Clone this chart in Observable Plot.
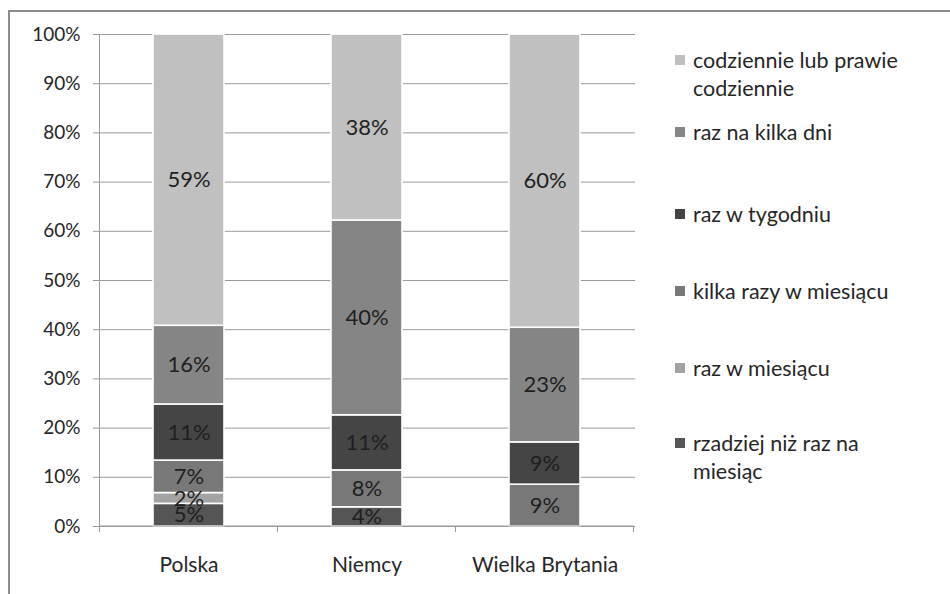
<!DOCTYPE html>
<html>
<head>
<meta charset="utf-8">
<script src="https://cdn.jsdelivr.net/npm/d3@7"></script>
<script src="https://cdn.jsdelivr.net/npm/@observablehq/plot@0.6"></script>
<style>
  html, body { margin: 0; padding: 0; background: #fff; }
  #wrap { position: relative; width: 950px; height: 594px; overflow: hidden; font-family: Lato, "Open Sans", sans-serif; }
  #frame { position: absolute; left: 8px; top: 10px; right: -10px; bottom: -10px; border-top: 2px solid #8c8c8c; border-left: 2px solid #8c8c8c; }
  #chart { position: absolute; left: 0; top: 0; }
  .leg { position: absolute; left: 675px; font-size: 21.5px; line-height: 28px; color: #262626; }
  .leg .sw { position: absolute; left: 0; top: 9px; width: 10px; height: 10px; }
  .leg .tx { position: absolute; left: 18px; top: 0; white-space: nowrap; }
</style>
</head>
<body>
<div id="wrap">
  <div id="frame"></div>
  <div id="chart"></div>
</div>
<script>
// Categories (x axis)
const countries = ["Polska", "Niemcy", "Wielka Brytania"];
// Series, bottom to top of the stack
const series = [
  "rzadziej niż raz na miesiąc",
  "raz w miesiącu",
  "kilka razy w miesiącu",
  "raz w tygodniu",
  "raz na kilka dni",
  "codziennie lub prawie codziennie"
];
const seriesColors = ["#555555", "#a3a3a3", "#787878", "#454545", "#858585", "#c0c0c0"];
// Values per country, in series order (percent)
const polska = [4.6, 2.2, 6.6, 11.4, 16.0, 59.2];
const niemcy = [3.9, 0, 7.5, 11.2, 39.6, 37.8];
const wielkaBrytania = [0, 0, 8.5, 8.6, 23.3, 59.6];
// Y tick values
const yTicks = [0, 10, 20, 30, 40, 50, 60, 70, 80, 90, 100];

const valuesByCountry = [polska, niemcy, wielkaBrytania];
const data = [];
countries.forEach((c, i) => {
  valuesByCountry[i].forEach((v, j) => {
    if (v > 0) data.push({country: c, series: series[j], value: v, label: Math.round(v) + "%"});
  });
});

const font = "Lato, 'Open Sans', sans-serif";
const chart = Plot.plot({
  width: 950,
  height: 594,
  marginLeft: 99,
  marginRight: 315,
  marginTop: 34,
  marginBottom: 68,
  style: {fontFamily: font, fontSize: "19px", color: "#262626", background: "transparent"},
  x: {domain: countries, paddingInner: 0.6, paddingOuter: 0.3, label: null},
  y: {domain: [0, 100], label: null},
  color: {domain: series, range: seriesColors},
  marks: [
    Plot.ruleY(yTicks, {stroke: "#9a9a9a", strokeWidth: 1}),
    Plot.axisY({ticks: yTicks, tickFormat: d => d + "%", tickSize: 6, tickPadding: 13, stroke: "#9a9a9a", label: null, fontSize: 19}),
    Plot.axisX({tickSize: 0, tickPadding: 31, label: null, fontSize: 21}),
    Plot.barY(data, {x: "country", y: "value", fill: "series", stroke: "#ffffff", strokeWidth: 1.6}),
    Plot.text(data, Plot.stackY({x: "country", y: "value", z: "series", text: "label", fill: "#1f1f1f", fontSize: 22}))
  ]
});
document.getElementById("chart").appendChild(chart);

// axis lines and category-boundary ticks, positioned from Plot's own scales
const xs = chart.scale("x"), ys = chart.scale("y");
const svg = d3.select(chart);
const y0 = ys.apply(0), y100 = ys.apply(100);
const left = xs.apply(countries[0]) - (xs.step - xs.bandwidth) / 2;
const bounds = countries.map((c, i) => left + i * xs.step).concat([left + countries.length * xs.step]);
const g = svg.append("g").attr("stroke", "#9a9a9a").attr("stroke-width", 1);
g.append("line").attr("x1", left).attr("x2", left).attr("y1", y100).attr("y2", y0);
g.append("line").attr("x1", left).attr("x2", bounds[bounds.length - 1]).attr("y1", y0).attr("y2", y0);
bounds.forEach(b => g.append("line").attr("x1", b).attr("x2", b).attr("y1", y0).attr("y2", y0 + 6));

// legend (top to bottom, as in the reference)
const legendOrder = series.slice().reverse();
const legendColors = seriesColors.slice().reverse();
const legendLines = [
  ["codziennie lub prawie", "codziennie"],
  ["raz na kilka  dni"],
  ["raz w tygodniu"],
  ["kilka  razy w miesiącu"],
  ["raz w miesiącu"],
  ["rzadziej niż raz na", "miesiąc"]
];
const legendTops = [46, 118, 200, 277, 354, 429];
const wrap = document.getElementById("wrap");
legendOrder.forEach((s, i) => {
  const d = document.createElement("div");
  d.className = "leg";
  d.style.top = legendTops[i] + "px";
  d.innerHTML = `<div class="sw" style="background:${legendColors[i]}"></div><div class="tx">${legendLines[i].join("<br>")}</div>`;
  wrap.appendChild(d);
});
</script>
</body>
</html>
